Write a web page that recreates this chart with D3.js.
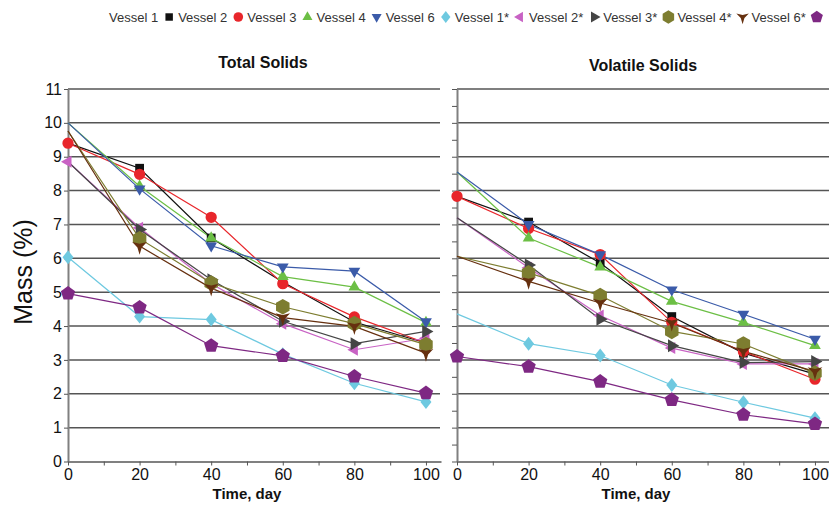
<!DOCTYPE html>
<html>
<head>
<meta charset="utf-8">
<script src="https://cdnjs.cloudflare.com/ajax/libs/d3/7.8.5/d3.min.js"></script>
<style>
    body { margin: 0; background: #fff; }
    svg { font-family: "Liberation Sans", Arial, sans-serif; }
</style>
</head>
<body>
<div id="chart"></div>
<script>
// values
const days = [0, 20, 40, 60, 80, 100];
const vessels = ["Vessel 1", "Vessel 2", "Vessel 3", "Vessel 4", "Vessel 6",
    "Vessel 1*", "Vessel 2*", "Vessel 3*", "Vessel 4*", "Vessel 6*"];
const colors = ["#111111", "#e8262b", "#6cbf45", "#3b5ba9", "#6ec9e0",
    "#c862c4", "#454545", "#7d7d30", "#66300f", "#7e2883"];
const shapes = ["square", "circle", "triangle", "triangleDown", "diamond",
    "triangleLeft", "triangleRight", "hexagon", "tristar", "pentagon"];

const totalSolids = [
    [9.4, 8.66, 6.6, 5.3, 4.12, 3.5],
    [9.4, 8.48, 7.21, 5.25, 4.27, 3.5],
    [10.0, 8.13, 6.6, 5.46, 5.15, 4.1],
    [10.0, 8.05, 6.37, 5.75, 5.62, 4.13],
    [6.03, 4.28, 4.19, 3.17, 2.31, 1.76],
    [8.85, 6.9, 5.25, 4.07, 3.3, 3.64],
    [8.85, 6.85, 5.37, 4.14, 3.48, 3.84],
    [9.76, 6.58, 5.27, 4.57, 4.07, 3.45],
    [9.76, 6.36, 5.12, 4.25, 3.99, 3.2],
    [4.96, 4.55, 3.42, 3.12, 2.51, 2.02]
];
const volatileSolids = [
    [7.83, 7.07, 5.86, 4.28, 3.2, 2.58],
    [7.83, 6.88, 6.11, 4.11, 3.25, 2.43],
    [8.55, 6.6, 5.74, 4.73, 4.11, 3.42],
    [8.55, 7.0, 6.11, 5.07, 4.35, 3.61],
    [4.36, 3.48, 3.13, 2.26, 1.75, 1.28],
    [7.2, 5.72, 4.31, 3.35, 2.88, 2.88],
    [7.2, 5.8, 4.2, 3.42, 2.92, 2.95],
    [6.06, 5.57, 4.9, 3.84, 3.47, 2.61],
    [6.06, 5.32, 4.68, 4.09, 3.25, 2.66],
    [3.1, 2.8, 2.36, 1.82, 1.38, 1.11]
];
// which series show a marker at day 0
const tsStartMarker = [false, true, false, false, true, true, false, false, false, true];
const vsStartMarker = [false, true, false, false, false, false, false, false, false, true];

const massTicks = d3.range(0, 12);
const massMinorTicks = d3.range(0, 11.01, 0.5);
const dayTicks = [0, 20, 40, 60, 80, 100];
const dayMinorTicks = [10, 30, 50, 70, 90];

const width = 829, height = 506;

// polygon helper for markers
function polygon(n, r, rot) {
    const pts = d3.range(n).map(i => {
        const a = rot + i * 2 * Math.PI / n;
        return [r * Math.cos(a), r * Math.sin(a)];
    });
    return "M" + pts.map(p => p.join(",")).join("L") + "Z";
}

function markerPath(shape, k) {
    const deg = Math.PI / 180;
    switch (shape) {
        case "square": return polygon(4, 6.2 * k, 45 * deg);
        case "circle": return d3.symbol(d3.symbolCircle, 100 * k * k)();
        case "triangle": return polygon(3, 6.8 * k, -90 * deg);
        case "triangleDown": return polygon(3, 6.8 * k, 90 * deg);
        case "diamond": return "M0," + (-7 * k) + "L" + (5.5 * k) + ",0L0," + (7 * k) + "L" + (-5.5 * k) + ",0Z";
        case "triangleLeft": return polygon(3, 7 * k, 180 * deg);
        case "triangleRight": return polygon(3, 7.5 * k, 0);
        case "hexagon": return polygon(6, 7.8 * k, 90 * deg);
        case "pentagon": return polygon(5, 7.5 * k, -90 * deg);
        case "tristar": {
            const pts = [];
            for (let i = 0; i < 6; i++) {
                const a = (-150 + i * 60) * deg;
                const r = (i % 2 === 0 ? 8.5 : 2.5) * k;
                pts.push([r * Math.cos(a), r * Math.sin(a)]);
            }
            return "M" + pts.map(p => p.join(",")).join("L") + "Z";
        }
    }
}

class SolidsPanel {
    constructor(svg, cfg) {
        this.svg = svg;
        this.cfg = cfg;
        this.initVis();
    }

    initVis() {
        let vis = this;
        const c = vis.cfg;
        vis.g = vis.svg.append("g");

        vis.xScale = d3.scaleLinear().domain([0, 104.2]).range([c.left, c.left + 373]);
        vis.yScale = d3.scaleLinear().domain([0, 11]).range([461.5, 89]);

        vis.updateVis();
    }

    updateVis() {
        let vis = this;
        const c = vis.cfg;

        // grid lines
        vis.g.selectAll(".grid")
            .data(massTicks.filter(d => d > 0))
            .join("line")
            .attr("class", "grid")
            .attr("x1", c.left)
            .attr("x2", c.gridEnd)
            .attr("y1", d => vis.yScale(d))
            .attr("y2", d => vis.yScale(d))
            .attr("stroke", "#555")
            .attr("stroke-width", 1.5);

        // y axis
        let yAxis;
        if (c.labels) {
            yAxis = d3.axisLeft(vis.yScale).tickValues(massTicks).tickSize(4).tickSizeOuter(0).tickPadding(2);
        } else {
            yAxis = d3.axisLeft(vis.yScale).tickValues(massMinorTicks).tickSize(5).tickSizeOuter(0).tickFormat("");
        }
        vis.g.append("g")
            .attr("transform", `translate(${c.left},0)`)
            .call(yAxis);

        // x axis
        vis.g.append("g")
            .attr("transform", `translate(0,${vis.yScale(0)})`)
            .call(d3.axisBottom(vis.xScale).tickValues(dayTicks).tickSize(4).tickSizeOuter(0).tickPadding(3));
        vis.g.append("g")
            .attr("transform", `translate(0,${vis.yScale(0)})`)
            .call(d3.axisBottom(vis.xScale).tickValues(dayMinorTicks).tickSize(4).tickSizeOuter(0).tickFormat(""))
            .select(".domain").remove();

        vis.g.selectAll(".domain").attr("stroke", "#808080").attr("stroke-width", 2);
        vis.g.selectAll(".tick line").attr("stroke", "#555");
        vis.g.selectAll(".tick text")
            .attr("font-size", 16)
            .attr("fill", "#111");

        // series lines
        const line = d3.line()
            .x(d => vis.xScale(d.day))
            .y(d => vis.yScale(d.value));

        c.values.forEach((vals, i) => {
            const pts = vals.map((v, j) => ({ day: days[j], value: v }));
            vis.g.append("path")
                .datum(pts)
                .attr("d", line)
                .attr("fill", "none")
                .attr("stroke", colors[i])
                .attr("stroke-width", 1.2);
        });

        // markers on top
        c.values.forEach((vals, i) => {
            const pts = vals.map((v, j) => ({ day: days[j], value: v }))
                .filter(d => d.day > 0 || c.startMarker[i]);
            vis.g.selectAll(null)
                .data(pts)
                .join("path")
                .attr("transform", d => `translate(${vis.xScale(d.day)},${vis.yScale(d.value)})`)
                .attr("d", markerPath(shapes[i], 1))
                .attr("fill", colors[i]);
        });

        // titles
        vis.g.append("text")
            .attr("x", c.titleX)
            .attr("y", c.titleY)
            .attr("text-anchor", "middle")
            .attr("font-size", 16)
            .attr("font-weight", "bold")
            .attr("fill", "#111")
            .text(c.title);

        vis.g.append("text")
            .attr("x", (vis.xScale(0) + vis.xScale(100)) / 2)
            .attr("y", 499)
            .attr("text-anchor", "middle")
            .attr("font-size", 15)
            .attr("font-weight", "bold")
            .attr("fill", "#111")
            .text("Time, day");
    }
}

const svg = d3.select("#chart")
    .append("svg")
    .attr("width", width)
    .attr("height", height);

new SolidsPanel(svg, {
    left: 68, gridEnd: 440, labels: true, values: totalSolids, startMarker: tsStartMarker,
    title: "Total Solids", titleX: 263, titleY: 68
});
new SolidsPanel(svg, {
    left: 457, gridEnd: 829, labels: false, values: volatileSolids, startMarker: vsStartMarker,
    title: "Volatile Solids", titleX: 643, titleY: 71
});

svg.append("text")
    .attr("transform", "translate(32,272) rotate(-90)")
    .attr("text-anchor", "middle")
    .attr("font-size", 25)
    .attr("fill", "#111")
    .text("Mass (%)");

// legend: label first, then its marker
const legend = svg.append("g").attr("transform", "translate(109,17)");
let lx = 0;
vessels.forEach((name, i) => {
    const t = legend.append("text")
        .attr("x", lx)
        .attr("y", 5)
        .attr("font-size", 13)
        .attr("fill", "#333")
        .text(name);
    const w = t.node().getComputedTextLength();
    const mx = lx + w + 11;
    legend.append("path")
        .attr("transform", `translate(${mx},0)`)
        .attr("d", markerPath(shapes[i], 0.85))
        .attr("fill", colors[i]);
    lx = mx + 9;
});
</script>
</body>
</html>
